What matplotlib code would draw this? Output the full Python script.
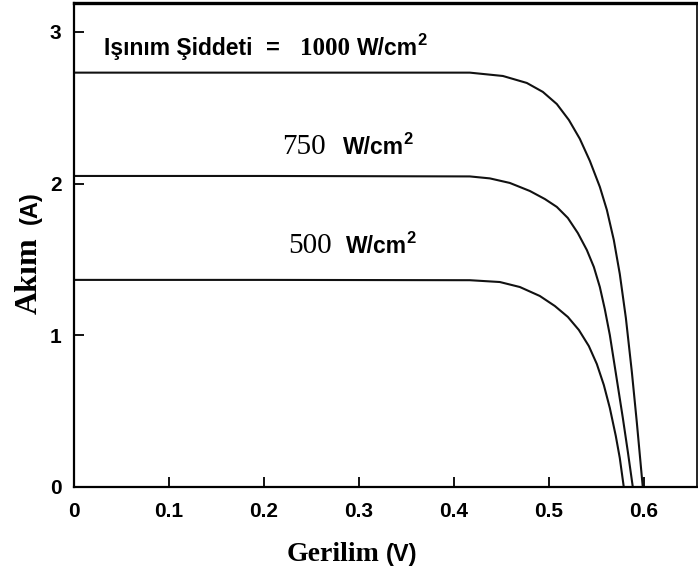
import matplotlib
matplotlib.use("Agg")
import matplotlib.pyplot as plt
from matplotlib.transforms import IdentityTransform

# ---- data (V, A) ----
v_1000 = [0.0, 0.20, 0.4168, 0.4516, 0.4768, 0.4937, 0.5084, 0.5211, 0.5326, 0.5432,
          0.5537, 0.5611, 0.5684, 0.5747, 0.5811, 0.5874, 0.5926, 0.5989]
i_1000 = [2.731, 2.731, 2.731, 2.709, 2.663, 2.604, 2.524, 2.419, 2.295, 2.149,
          1.978, 1.826, 1.628, 1.404, 1.114, 0.758, 0.428, 0.0]

v_750 = [0.0, 0.20, 0.4168, 0.4379, 0.4589, 0.480, 0.4958, 0.5084, 0.520, 0.5305,
         0.540, 0.5474, 0.5537, 0.5589, 0.5642, 0.5705, 0.5779, 0.5832, 0.5884]
i_750 = [2.050, 2.050, 2.047, 2.034, 2.004, 1.951, 1.898, 1.846, 1.773, 1.674,
         1.562, 1.450, 1.318, 1.173, 1.002, 0.751, 0.455, 0.231, 0.0]

v_500 = [0.0, 0.20, 0.4168, 0.4484, 0.4695, 0.4905, 0.5063, 0.520, 0.5316, 0.5421,
         0.5505, 0.5579, 0.5642, 0.5705, 0.5747, 0.5789]
i_500 = [1.365, 1.365, 1.363, 1.351, 1.318, 1.259, 1.193, 1.121, 1.035, 0.929,
         0.811, 0.672, 0.521, 0.336, 0.191, 0.0]

x_ticks = [0, 0.1, 0.2, 0.3, 0.4, 0.5, 0.6]
x_tick_labels = ["0", "0.1", "0.2", "0.3", "0.4", "0.5", "0.6"]
y_ticks = [0, 1, 2, 3]
y_tick_labels = ["0", "1", "2", "3"]

W, H = 698, 574
fig = plt.figure(figsize=(W / 100, H / 100), dpi=100)
ax = fig.add_axes([74 / W, (H - 487) / H, (697 - 74) / W, (487 - 3) / H])

for v, i in [(v_1000, i_1000), (v_750, i_750), (v_500, i_500)]:
    ax.plot(v, i, color="#111111", lw=1.5, solid_joinstyle="round", solid_capstyle="round")

ax.set_xlim(0, 0.656)
ax.set_ylim(0, 3.19)
ax.set_xticks(x_ticks)
ax.set_xticklabels(x_tick_labels)
ax.set_yticks(y_ticks)
ax.set_yticklabels(y_tick_labels)
ax.tick_params(direction="in", length=7.5, width=1.3, labelsize=15)
ax.tick_params(axis="x", pad=11)
ax.tick_params(axis="y", pad=9)
for lab in ax.get_xticklabels() + ax.get_yticklabels():
    lab.set_fontfamily("Liberation Sans")
    lab.set_fontweight("bold")
for s in ax.spines.values():
    s.set_linewidth(1.6)
ax.spines["top"].set_linewidth(2.4)
ax.spines["right"].set_linewidth(1.2)

SANS = "Liberation Sans"
SERIF = "Liberation Serif"
renderer = fig.canvas.get_renderer()


def put(x_px, base_px, s, fam, weight, size, rot=0):
    t = fig.text(x_px, H - base_px, s, family=fam, weight=weight, fontsize=size,
                 transform=IdentityTransform(), ha="left", va="baseline",
                 rotation=rot, rotation_mode="anchor")
    return t


def wcm2(x_px, base_px, size):
    t = put(x_px, base_px, "W/cm", SANS, "bold", size)
    w = t.get_window_extent(renderer).width
    put(x_px + w - 1, base_px - size * 0.62, "2", SANS, "bold", size * 0.72)


# in-plot labels
put(104, 55, "Işınım Şiddeti", SANS, "bold", 16.5)
put(266, 55, "=", SANS, "bold", 17)
put(300, 55, "1000", SERIF, "bold", 18)
wcm2(357, 55, 16.5)

put(282, 154, "750", SERIF, "normal", 21)
wcm2(343, 154, 16.5)

put(288, 253, "500", SERIF, "normal", 21)
wcm2(346, 253, 16.5)

# x axis label
put(287, 561, "Gerilim", SERIF, "bold", 20)
put(386, 561, "(V)", SANS, "bold", 17)

# y axis label (rotated)
put(37, 314, "Akım", SERIF, "bold", 23, rot=90)
put(37, 224, "(A)", SANS, "bold", 17, rot=90)

fig.savefig("out.png", dpi=100)
